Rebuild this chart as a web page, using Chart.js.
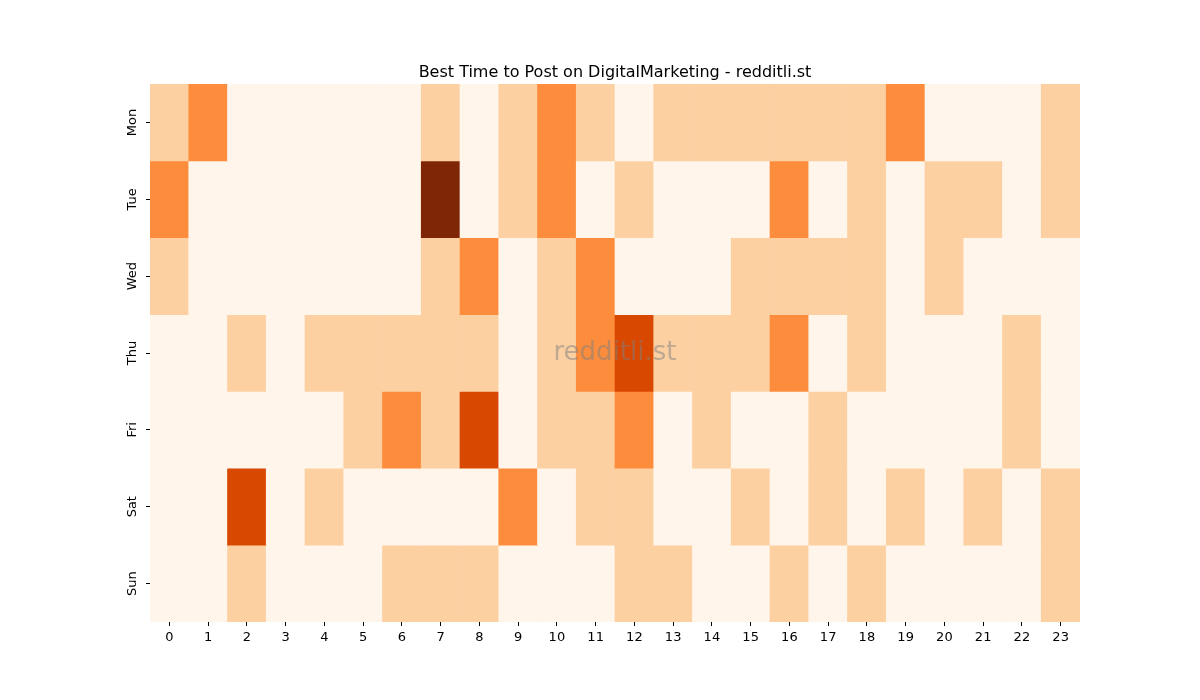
<!DOCTYPE html>
<html>
<head>
<meta charset="utf-8">
<script src="https://cdn.jsdelivr.net/npm/chart.js@4/dist/chart.umd.min.js"></script>
<style>
html,body{margin:0;padding:0;background:#fff;}
#wrap{width:1200px;height:700px;position:relative;}
</style>
</head>
<body>
<div id="wrap"><canvas id="c" width="1200" height="700"></canvas></div>
<script>
const hours = ["0","1","2","3","4","5","6","7","8","9","10","11","12","13","14","15","16","17","18","19","20","21","22","23"];
const days = ["Mon","Tue","Wed","Thu","Fri","Sat","Sun"];
const mon = [1,2,0,0,0,0,0,1,0,1,2,1,0,1,1,1,1,1,1,2,0,0,0,1];
const tue = [2,0,0,0,0,0,0,4,0,1,2,0,1,0,0,0,2,0,1,0,1,1,0,1];
const wed = [1,0,0,0,0,0,0,1,2,0,1,2,0,0,0,1,1,1,1,0,1,0,0,0];
const thu = [0,0,1,0,1,1,1,1,1,0,1,2,3,1,1,1,2,0,1,0,0,0,1,0];
const fri = [0,0,0,0,0,1,2,1,3,0,1,1,2,0,1,0,0,1,0,0,0,0,1,0];
const sat = [0,0,3,0,1,0,0,0,0,2,0,1,1,0,0,1,0,1,0,1,0,1,0,1];
const sun = [0,0,1,0,0,0,1,1,1,0,0,0,1,1,0,0,1,0,1,0,0,0,0,1];
const levelColors = ["#fff5eb","#fdd0a2","#fd8d3c","#d94801","#7f2704"];
const titleText = 'Best Time to Post on DigitalMarketing - redditli.st';

const rows = [mon, tue, wed, thu, fri, sat, sun];
const datasets = rows.map((vals, i) => ({
  label: days[i],
  data: vals.map(() => [i, i + 1]),
  backgroundColor: vals.map(v => levelColors[v]),
  borderWidth: 0,
  borderSkipped: false,
  grouped: false,
  barPercentage: 1,
  categoryPercentage: 1
}));

const extras = {
  id: 'extras',
  afterDraw(chart) {
    const a = chart.chartArea, ctx = chart.ctx;
    const cx = (a.left + a.right) / 2;
    ctx.save();
    // watermark
    ctx.font = '26px "DejaVu Sans"';
    ctx.fillStyle = 'rgba(128,128,128,0.5)';
    ctx.textAlign = 'center';
    ctx.textBaseline = 'middle';
    ctx.fillText('redditli.st', cx, (a.top + a.bottom) / 2);
    // title
    ctx.font = '16px "DejaVu Sans"';
    ctx.fillStyle = '#000';
    ctx.textBaseline = 'alphabetic';
    ctx.fillText(titleText, cx, a.top - 7);
    // y tick labels, rotated
    const ys = chart.scales.y;
    ctx.font = '13px "DejaVu Sans"';
    ctx.textBaseline = 'middle';
    days.forEach((d, i) => {
      const y = ys.getPixelForValue(i + 0.5);
      ctx.save();
      ctx.translate(a.left - 17, y);
      ctx.rotate(-Math.PI / 2);
      ctx.fillText(d, 0, 0);
      ctx.restore();
    });
    ctx.restore();
  }
};

new Chart(document.getElementById('c'), {
  type: 'bar',
  data: { labels: hours, datasets },
  options: {
    responsive: false,
    animation: false,
    layout: { padding: { left: 0, right: 120, top: 84, bottom: 0 } },
    plugins: {
      legend: { display: false },
      tooltip: { enabled: false },
      title: { display: false }
    },
    scales: {
      x: {
        grid: { display: true, drawOnChartArea: false, offset: false, tickLength: 4, color: '#000', tickColor: '#000', tickWidth: 1 },
        border: { display: false },
        ticks: { color: '#000', font: { family: 'DejaVu Sans', size: 13 }, padding: 4, maxRotation: 0, minRotation: 0 },
        afterFit(s) { s.height = 78; }
      },
      y: {
        type: 'linear',
        min: 0,
        max: 7,
        reverse: true,
        grid: { display: true, drawOnChartArea: false, tickLength: 4, color: '#000', tickColor: '#000', tickWidth: 1 },
        border: { display: false },
        afterBuildTicks(s) { s.ticks = days.map((d, i) => ({ value: i + 0.5 })); },
        ticks: {
          color: 'rgba(0,0,0,0)',
          font: { family: 'DejaVu Sans', size: 13 },
          padding: 4,
          callback: (v) => days[Math.floor(v)]
        },
        afterFit(s) { s.width = 150; }
      }
    }
  },
  plugins: [extras]
});
</script>
</body>
</html>
